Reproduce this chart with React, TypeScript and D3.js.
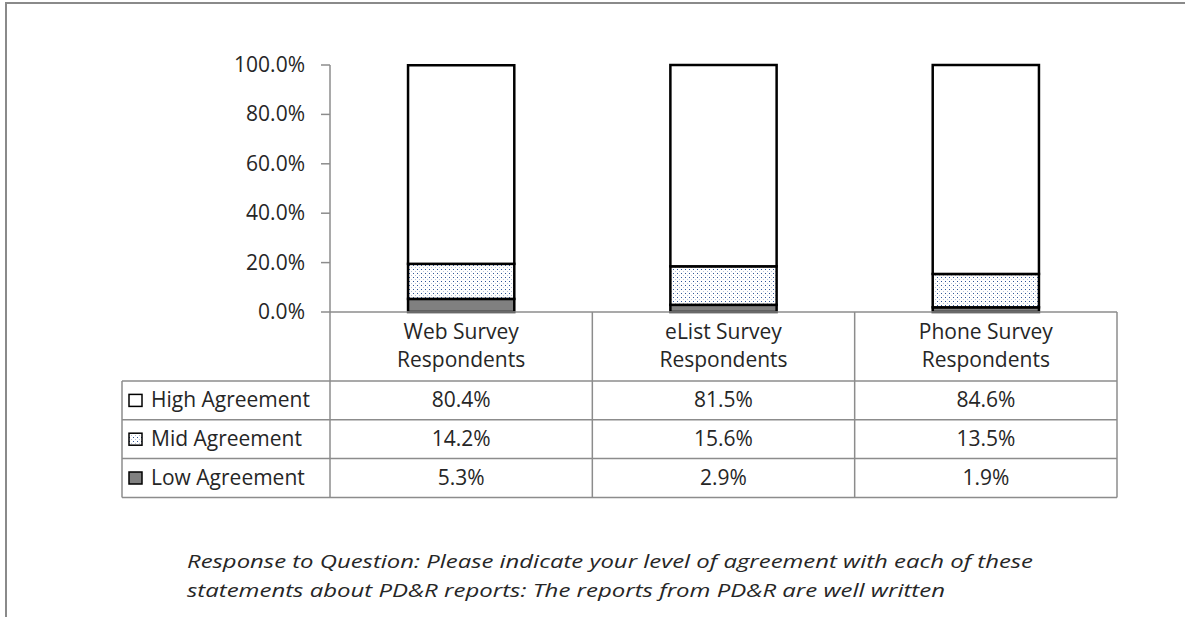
import * as d3 from "d3";

// survey groups and agreement levels
const groups = ["Web Survey Respondents", "eList Survey Respondents", "Phone Survey Respondents"];
const groupLines = [
  ["Web Survey", "Respondents"],
  ["eList Survey", "Respondents"],
  ["Phone Survey", "Respondents"],
];
const levels = ["High Agreement", "Mid Agreement", "Low Agreement"];
const high = [80.4, 81.5, 84.6];
const mid = [14.2, 15.6, 13.5];
const low = [5.3, 2.9, 1.9];
const yTicks = [0, 20, 40, 60, 80, 100];
const caption = [
  "Response to Question: Please indicate your level of agreement with each of these",
  "statements about PD&R reports: The reports from PD&R are well written",
];
const captionWidths = [846, 758];

const W = 1185;
const H = 617;
const FONT = "'Open Sans', sans-serif";
const TEXT = "#262626";
const GRID = "#8c8c8c";

export default function App() {
  const left = 330;
  const right = 1117;
  const top = 65;
  const bottom = 312;
  const headerBottom = 381;
  const rowH = 38.8;
  const tableLeft = 122;

  const cols = d3.scaleBand<string>().domain(groups).range([left, right]);
  const bars = d3
    .scaleBand<string>()
    .domain(groups)
    .range([left, right])
    .paddingInner(0.595)
    .paddingOuter(0.2975);
  const y = d3.scaleLinear().domain([0, 100]).range([bottom, top]);

  const rows = groups.map((g, i) => ({ group: g, low: low[i], mid: mid[i], high: high[i] }));
  const stack = d3.stack<any>().keys(["low", "mid", "high"])(rows);
  const fills: Record<string, string> = { low: "#808080", mid: "url(#dots)", high: "#ffffff" };

  const tableValues = [high, mid, low];
  const keyFills = ["#ffffff", "url(#dots)", "#808080"];
  const tableBottom = headerBottom + rowH * levels.length;

  return (
    <svg
      width={W}
      height={H}
      style={{ position: "absolute", left: 0, top: 0, display: "block", background: "#fff" }}
      fontFamily={FONT}
    >
      <defs>
        <pattern id="dots" width={4} height={4} patternUnits="userSpaceOnUse">
          <rect width={4} height={4} fill="#fff" />
          <rect x={1} y={1} width={1} height={1} fill="#2f5597" />
          <rect x={3} y={3} width={1} height={1} fill="#b4c2d8" />
        </pattern>
      </defs>

      {/* outer frame */}
      <rect x={6} y={3} width={W + 20} height={H + 20} fill="none" stroke="#8a8a8a" strokeWidth={2} />

      {/* y axis */}
      <line x1={left} x2={left} y1={top} y2={tableBottom} stroke={GRID} strokeWidth={1.5} />
      {yTicks.map((t) => (
        <g key={t}>
          <line x1={left - 9} x2={left} y1={y(t)} y2={y(t)} stroke={GRID} strokeWidth={1.5} />
          <text x={305} y={y(t) + 7} textAnchor="end" fontSize={21} fill={TEXT}>
            {d3.format(".1f")(t) + "%"}
          </text>
        </g>
      ))}

      {/* stacked bars */}
      {stack.map((layer) =>
        layer.map((d, i) => (
          <rect
            key={layer.key + i}
            x={bars(groups[i])}
            width={bars.bandwidth()}
            y={y(d[1])}
            height={y(d[0]) - y(d[1])}
            fill={fills[layer.key]}
            stroke="#000"
            strokeWidth={2.5}
          />
        ))
      )}

      {/* data table grid */}
      <line x1={left} x2={right} y1={bottom} y2={bottom} stroke={GRID} strokeWidth={1.5} />
      {[0, 1, 2, 3].map((r) => (
        <line
          key={r}
          x1={tableLeft}
          x2={right}
          y1={headerBottom + rowH * r}
          y2={headerBottom + rowH * r}
          stroke={GRID}
          strokeWidth={1.5}
        />
      ))}
      <line x1={tableLeft} x2={tableLeft} y1={headerBottom} y2={tableBottom} stroke={GRID} strokeWidth={1.5} />
      {groups.map((g) => (
        <line
          key={g}
          x1={cols(g)! + cols.bandwidth()}
          x2={cols(g)! + cols.bandwidth()}
          y1={bottom}
          y2={tableBottom}
          stroke={GRID}
          strokeWidth={1.5}
        />
      ))}

      {/* category headers */}
      {groups.map((g, i) => (
        <text key={g} textAnchor="middle" fontSize={21} fill={TEXT}>
          {groupLines[i].map((s, j) => (
            <tspan key={j} x={cols(g)! + cols.bandwidth() / 2} y={339 + j * 28}>
              {s}
            </tspan>
          ))}
        </text>
      ))}

      {/* legend column + values */}
      {levels.map((lv, r) => {
        const cy = headerBottom + rowH * r + rowH / 2;
        return (
          <g key={lv}>
            <rect x={129} y={cy - 6} width={13} height={12} fill={keyFills[r]} stroke="#000" strokeWidth={1.5} />
            <text x={151} y={cy + 7} fontSize={21} fill={TEXT}>
              {lv}
            </text>
            {groups.map((g, i) => (
              <text
                key={g}
                x={cols(g)! + cols.bandwidth() / 2}
                y={cy + 7}
                textAnchor="middle"
                fontSize={21}
                fill={TEXT}
              >
                {d3.format(".1f")(tableValues[r][i]) + "%"}
              </text>
            ))}
          </g>
        );
      })}

      {/* caption */}
      {caption.map((c, i) => (
        <text
          key={i}
          x={187}
          y={568 + i * 29}
          fontSize={19}
          fontStyle="italic"
          fill={TEXT}
          textLength={captionWidths[i]}
          lengthAdjust="spacingAndGlyphs"
        >
          {c}
        </text>
      ))}
    </svg>
  );
}
